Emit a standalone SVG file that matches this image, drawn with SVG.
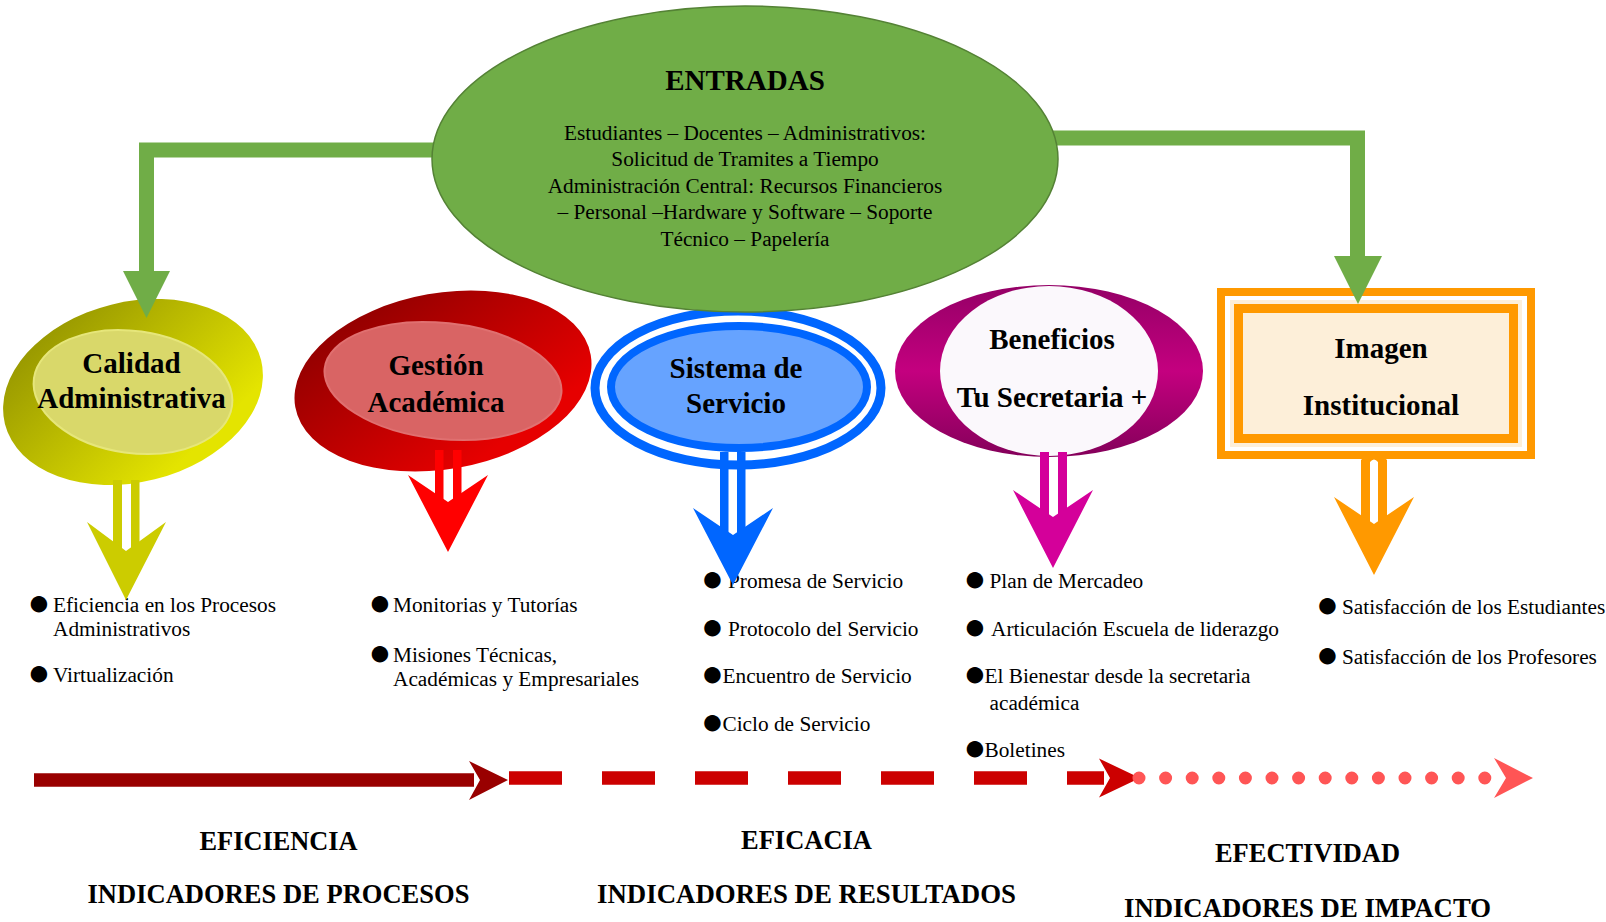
<svg xmlns="http://www.w3.org/2000/svg" width="1606" height="922" viewBox="0 0 1606 922">
<defs>
<linearGradient id="gY" x1="0.3" y1="0" x2="0.9" y2="0.7"><stop offset="0" stop-color="#999900"/><stop offset="1" stop-color="#e4e400"/></linearGradient>
<linearGradient id="gR" x1="0.3" y1="0" x2="0.9" y2="0.7"><stop offset="0" stop-color="#940000"/><stop offset="1" stop-color="#e60000"/></linearGradient>
<linearGradient id="gM" x1="0" y1="0" x2="0" y2="1"><stop offset="0" stop-color="#940066"/><stop offset="0.5" stop-color="#c4007f"/><stop offset="1" stop-color="#84005a"/></linearGradient>
</defs>
<style>
.t{font-family:"Liberation Serif","Times New Roman",serif;font-weight:bold;font-size:29px;text-anchor:middle;fill:#000}
.b{font-family:"Liberation Serif","Times New Roman",serif;font-size:21.3px;fill:#000}
.bl{font-size:38px}
.c{text-anchor:middle}
.f{font-family:"Liberation Serif","Times New Roman",serif;font-weight:bold;font-size:27.5px;text-anchor:middle;fill:#000}
.g{fill:#70ad47}
.gl{fill:none;stroke:#70ad47;stroke-width:15}
</style>

<g id="lista-calidad" class="b">
<text y="611.5"><tspan class="bl" x="27.5" dy="3">●</tspan><tspan x="53" dy="-3">Eficiencia en los Procesos</tspan></text>
<text x="53" y="635.5">Administrativos</text>
<text y="682"><tspan class="bl" x="27.5" dy="3">●</tspan><tspan x="53" dy="-3">Virtualización</tspan></text>
</g>
<g id="lista-gestion" class="b">
<text y="611.5"><tspan class="bl" x="368.5" dy="3">●</tspan><tspan x="393" dy="-3">Monitorias y Tutorías</tspan></text>
<text y="661.5"><tspan class="bl" x="368.5" dy="3">●</tspan><tspan x="393" dy="-3">Misiones Técnicas,</tspan></text>
<text x="393" y="686">Académicas y Empresariales</text>
</g>
<g id="lista-sistema" class="b">
<text y="588"><tspan class="bl" x="701" dy="3">●</tspan><tspan x="728" dy="-3">Promesa de Servicio</tspan></text>
<text y="636"><tspan class="bl" x="701" dy="3">●</tspan><tspan x="728" dy="-3">Protocolo del Servicio</tspan></text>
<text y="683"><tspan class="bl" x="701" dy="3">●</tspan><tspan x="722.5" dy="-3">Encuentro de Servicio</tspan></text>
<text y="730.5"><tspan class="bl" x="701" dy="3">●</tspan><tspan x="722.5" dy="-3">Ciclo de Servicio</tspan></text>
</g>
<g id="lista-beneficios" class="b">
<text y="588"><tspan class="bl" x="963.5" dy="3">●</tspan><tspan x="989.5" dy="-3">Plan de Mercadeo</tspan></text>
<text y="636"><tspan class="bl" x="963.5" dy="3">●</tspan><tspan x="991" dy="-3">Articulación Escuela de liderazgo</tspan></text>
<text y="683"><tspan class="bl" x="963.5" dy="3">●</tspan><tspan x="984.5" dy="-3">El Bienestar desde la secretaria</tspan></text>
<text x="989.5" y="710">académica</text>
<text y="757"><tspan class="bl" x="963.5" dy="3">●</tspan><tspan x="984.5" dy="-3">Boletines</tspan></text>
</g>
<g id="lista-imagen" class="b">
<text y="613.5"><tspan class="bl" x="1316" dy="3">●</tspan><tspan x="1342" dy="-3">Satisfacción de los Estudiantes</tspan></text>
<text y="664"><tspan class="bl" x="1316" dy="3">●</tspan><tspan x="1342" dy="-3">Satisfacción de los Profesores</tspan></text>
</g>

<g id="calidad">
<ellipse cx="133" cy="392" rx="132" ry="90" transform="rotate(-14 133 392)" fill="url(#gY)"/>
<ellipse cx="133" cy="392" rx="100" ry="61" transform="rotate(8 133 392)" fill="#d9d86a" stroke="#e6e67a" stroke-width="2"/>
<text class="t" x="131.5" y="372.5">Calidad</text>
<text class="t" x="131.5" y="408">Administrativa</text>
</g>
<g id="gestion">
<ellipse cx="443" cy="381" rx="150" ry="88" transform="rotate(-10 443 381)" fill="url(#gR)"/>
<ellipse cx="443" cy="381" rx="119" ry="58" transform="rotate(6 443 381)" fill="#d96464" stroke="#e07070" stroke-width="2"/>
<text class="t" x="436" y="375">Gestión</text>
<text class="t" x="436" y="411.5">Académica</text>
</g>
<g id="sistema">
<ellipse cx="738" cy="388" rx="143" ry="77" fill="#fff" stroke="#0066ff" stroke-width="9"/>
<ellipse cx="739" cy="387" rx="128" ry="61" fill="#66a3ff" stroke="#0066ff" stroke-width="8"/>
<text class="t" x="736" y="378">Sistema de</text>
<text class="t" x="736" y="413">Servicio</text>
</g>
<g id="beneficios">
<ellipse cx="1049" cy="371" rx="154" ry="86" fill="url(#gM)"/>
<ellipse cx="1049" cy="371" rx="109" ry="85" fill="#fbf8fc"/>
<text class="t" x="1052" y="349">Beneficios</text>
<text class="t" x="1052" y="407">Tu Secretaria +</text>
</g>
<g id="imagen">
<rect x="1221" y="292" width="310" height="163" fill="#fff" stroke="#ff9900" stroke-width="8"/>
<rect x="1230" y="300" width="292" height="147" fill="#fdefd9"/>
<rect x="1238.5" y="308.5" width="275" height="130" fill="#fdefd9" stroke="#ff9900" stroke-width="9"/>
<text class="t" x="1381" y="358" fill="#261a08">Imagen</text>
<text class="t" x="1381" y="415" fill="#261a08">Institucional</text>
</g>

<g id="connectors">
<polyline class="gl" points="440,150 146.5,150 146.5,272"/>
<polygon class="g" points="123,271 170,271 146.5,318"/>
<polyline class="gl" points="1050,138 1357.5,138 1357.5,257"/>
<polygon class="g" points="1334,256 1382,256 1358,304"/>

<g fill="#cccc00"><rect x="113" y="480" width="9" height="70"/><rect x="131" y="480" width="8.5" height="70"/><polygon points="87,522 126,551 166,522 126,600"/></g>
<g fill="#ff0000"><rect x="435" y="450" width="8.5" height="52"/><rect x="453" y="450" width="8.5" height="52"/><polygon points="408,475 448,502 488,475 448,552"/></g>
<g fill="#0066ff"><rect x="720" y="452" width="8.5" height="82"/><rect x="737" y="452" width="8.5" height="82"/><polygon points="693,508 733,535 773,508 733,585"/></g>
<g fill="#d4009a"><rect x="1040" y="452" width="9" height="66"/><rect x="1058" y="452" width="9" height="66"/><polygon points="1013,490 1053,517 1093,490 1053,568"/></g>
<g fill="#ff9900"><path d="M1361,524 V460 Q1374,446 1387,460 V524 H1378 V462 Q1374,457 1370,462 V524 Z"/><polygon points="1334,497 1374,524 1414,497 1374,575"/></g>

<line x1="34" y1="780" x2="474" y2="780" stroke="#990000" stroke-width="13.5"/>
<polygon points="469,761 508,780 469,800 480,780" fill="#990000"/>
<line x1="509" y1="778" x2="1104" y2="778" stroke="#cc0000" stroke-width="13.5" stroke-dasharray="53 40"/>
<polygon points="1099,758.5 1140,778 1099,797.5 1110,778" fill="#cc0000"/>
<line x1="1139" y1="778" x2="1486" y2="778" stroke="#ff5555" stroke-width="13" stroke-linecap="round" stroke-dasharray="0 26.6"/>
<polygon points="1494,758 1533,778 1494,798 1506,778" fill="#ff5555"/>
</g>

<g id="entradas">
<ellipse cx="745" cy="159" rx="313" ry="153" fill="#70ad47" stroke="#548235" stroke-width="1.5"/>
<text class="t" x="745" y="90">ENTRADAS</text>
<text class="b c" x="745" y="140">Estudiantes – Docentes – Administrativos:</text>
<text class="b c" x="745" y="166">Solicitud de Tramites a Tiempo</text>
<text class="b c" x="745" y="192.5">Administración Central: Recursos Financieros</text>
<text class="b c" x="745" y="219">– Personal –Hardware y Software – Soporte</text>
<text class="b c" x="745" y="246">Técnico – Papelería</text>
</g>

<g id="etiquetas">
<text class="f" x="278.5" y="850" textLength="158" lengthAdjust="spacingAndGlyphs">EFICIENCIA</text>
<text class="f" x="278.5" y="903" textLength="382" lengthAdjust="spacingAndGlyphs">INDICADORES DE PROCESOS</text>
<text class="f" x="806.5" y="849" textLength="131" lengthAdjust="spacingAndGlyphs">EFICACIA</text>
<text class="f" x="806.5" y="903" textLength="419" lengthAdjust="spacingAndGlyphs">INDICADORES DE RESULTADOS</text>
<text class="f" x="1307.5" y="862" textLength="185" lengthAdjust="spacingAndGlyphs">EFECTIVIDAD</text>
<text class="f" x="1307.5" y="917" textLength="367" lengthAdjust="spacingAndGlyphs">INDICADORES DE IMPACTO</text>
</g>
</svg>
